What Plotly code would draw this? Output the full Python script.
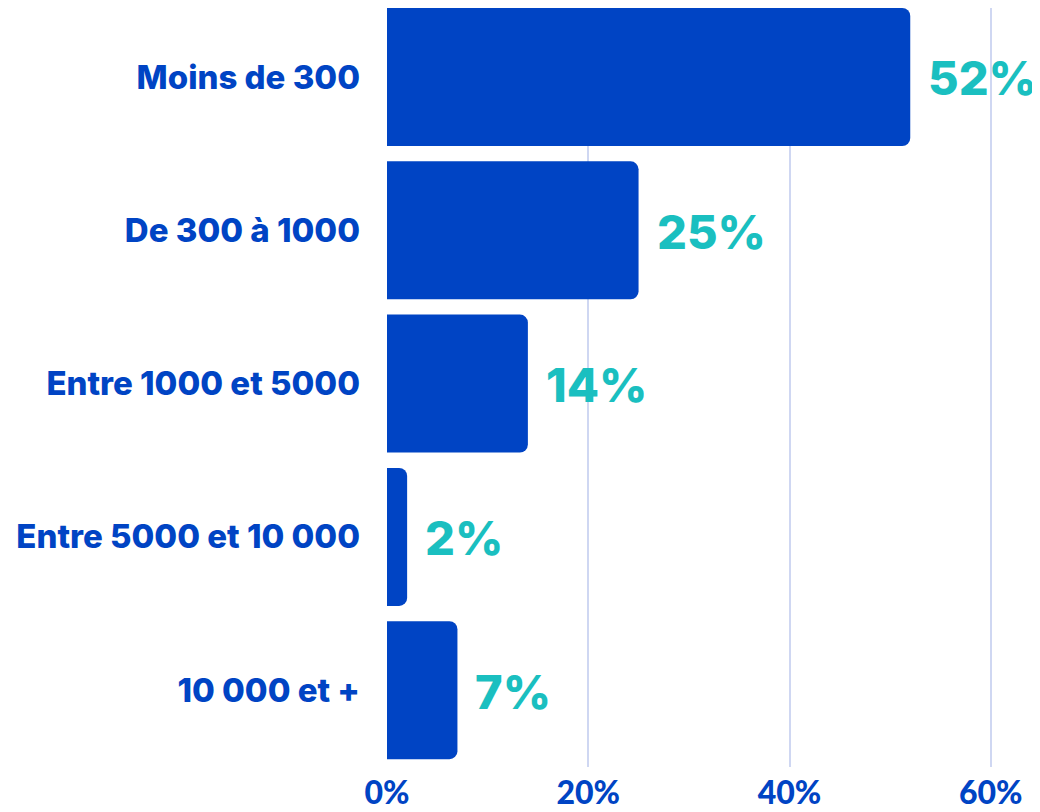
import plotly.graph_objects as go

categories = ["Moins de 300", "De 300 à 1000", "Entre 1000 et 5000", "Entre 5000 et 10 000", "10 000 et +"]
values = [52, 25, 14, 2, 7]
labels = ["52%", "25%", "14%", "2%", "7%"]
tick_vals = [0, 20, 40, 60]
tick_text = ["0%", "20%", "40%", "60%"]

BLUE = "#0044C4"
TEAL = "#1ABFC0"

fig = go.Figure()
fig.add_trace(go.Bar(
    x=values, y=categories, orientation="h",
    marker=dict(color=BLUE, line=dict(width=0)),
    hoverinfo="skip",
))

for v, c, t in zip(values, categories, labels):
    fig.add_annotation(
        x=v, y=c, text=t, xanchor="left", yanchor="middle",
        xshift=16, yshift=-1, showarrow=False,
        font=dict(family="Inter", size=47, color=TEAL, weight=800),
    )

# page has an 8px body margin; figure sized so it fits the 1040x812 window
fig.update_layout(
    width=1032, height=804,
    margin=dict(l=379, r=9, t=0, b=45, autoexpand=False),
    plot_bgcolor="white", paper_bgcolor="white",
    bargap=0.1, barcornerradius=8,
    showlegend=False,
    xaxis=dict(
        range=[0, 64], tickvals=tick_vals, ticktext=tick_text,
        showgrid=True, gridcolor="#CFD7F2", gridwidth=2,
        zeroline=False, showline=False, automargin=False,
        tickfont=dict(family="Lato", size=32, color=BLUE, weight=900),
        ticklabelstandoff=4,
    ),
    yaxis=dict(
        categoryorder="array", categoryarray=categories,
        range=[4.501, -0.45],
        showgrid=False, zeroline=False, showline=False, automargin=False,
        tickfont=dict(family="Inter", size=33, color=BLUE, weight=800),
        ticklabelstandoff=26,
    ),
)

fig.write_html("out.html")
